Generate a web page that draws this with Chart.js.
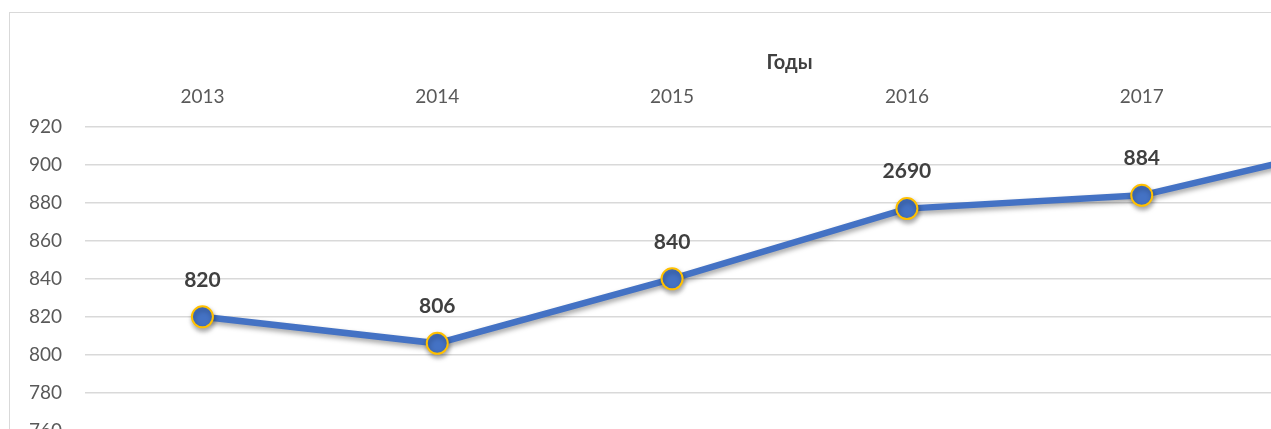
<!DOCTYPE html>
<html>
<head>
<meta charset="utf-8">
<script src="https://cdn.jsdelivr.net/npm/chart.js@4"></script>
<style>
    html, body { margin: 0; padding: 0; background: #fff; overflow: hidden; width: 1271px; height: 429px; }
    #cadre { position: absolute; left: 9px; top: 12px; width: 1600px; height: 600px; border: 1px solid #d9d9d9; box-sizing: border-box; }
    #myChart { position: absolute; left: 0; top: 0; }
</style>
</head>
<body>
<div id="cadre">
    <canvas id="myChart" width="1500" height="490"></canvas>
</div>
<script>
// donnees
let annees = ["2013", "2014", "2015", "2016", "2017", "2018"];
let valeurs = [820, 806, 840, 877, 884, 913];
let etiquettes = ["820", "806", "840", "2690", "884", "913"];
let graduations_y = [740, 760, 780, 800, 820, 840, 860, 880, 900, 920];

let police = "Lato, 'Open Sans', 'Liberation Sans', sans-serif";

// ombre sous la courbe
let ombre = {
    id: 'ombre',
    beforeDatasetDraw(chart) {
        let ctx = chart.ctx;
        ctx.save();
        ctx.shadowColor = 'rgba(0, 0, 0, 0.35)';
        ctx.shadowBlur = 5;
        ctx.shadowOffsetX = 1;
        ctx.shadowOffsetY = 3;
    },
    afterDatasetDraw(chart) {
        chart.ctx.restore();
    }
};

// etiquettes de donnees au-dessus des points
let etiquettes_donnees = {
    id: 'etiquettes_donnees',
    afterDatasetsDraw(chart) {
        let ctx = chart.ctx;
        let meta = chart.getDatasetMeta(0);
        ctx.save();
        ctx.font = "bold 21px " + police;
        ctx.fillStyle = '#404040';
        ctx.textAlign = 'center';
        ctx.textBaseline = 'middle';
        meta.data.forEach((point, i) => {
            ctx.fillText(etiquettes[i], point.x, point.y - 37);
        });
        ctx.restore();
    }
};

const ctx = document.getElementById('myChart');

let my_chart = new Chart(ctx, {
    type: 'line',
    data: {
        labels: annees,
        datasets: [{
            data: valeurs,
            borderColor: '#4472C4',
            borderWidth: 6.5,
            backgroundColor: '#4472C4',
            pointBackgroundColor: '#4472C4',
            pointBorderColor: '#FFC000',
            pointBorderWidth: 2,
            pointRadius: 10.5,
            tension: 0,
            fill: false
        }]
    },
    options: {
        responsive: false,
        animation: false,
        layout: {
            padding: { left: 0, right: 16, top: 0, bottom: 15 }
        },
        plugins: {
            legend: { display: false },
            tooltip: { enabled: false }
        },
        scales: {
            x: {
                position: 'top',
                offset: true,
                grid: { display: false, drawTicks: false },
                border: { display: false },
                ticks: {
                    color: '#595959',
                    font: { family: police, size: 19 },
                    padding: 19,
                    maxRotation: 0
                },
                title: {
                    display: true,
                    text: 'Годы',
                    color: '#404040',
                    font: { family: police, size: 20, weight: 'bold' },
                    padding: { top: 38, bottom: 0 }
                },
                afterFit(scale) {
                    scale.height = 114;
                }
            },
            y: {
                min: 740,
                max: 920,
                afterBuildTicks(scale) {
                    scale.ticks = graduations_y.map((v) => ({ value: v }));
                },
                grid: { color: '#d9d9d9', lineWidth: 1.5, drawTicks: false },
                border: { display: false },
                ticks: {
                    color: '#595959',
                    font: { family: police, size: 19 },
                    padding: 23
                },
                afterFit(scale) {
                    scale.width = 75;
                }
            }
        }
    },
    plugins: [ombre, etiquettes_donnees]
});
</script>
</body>
</html>
